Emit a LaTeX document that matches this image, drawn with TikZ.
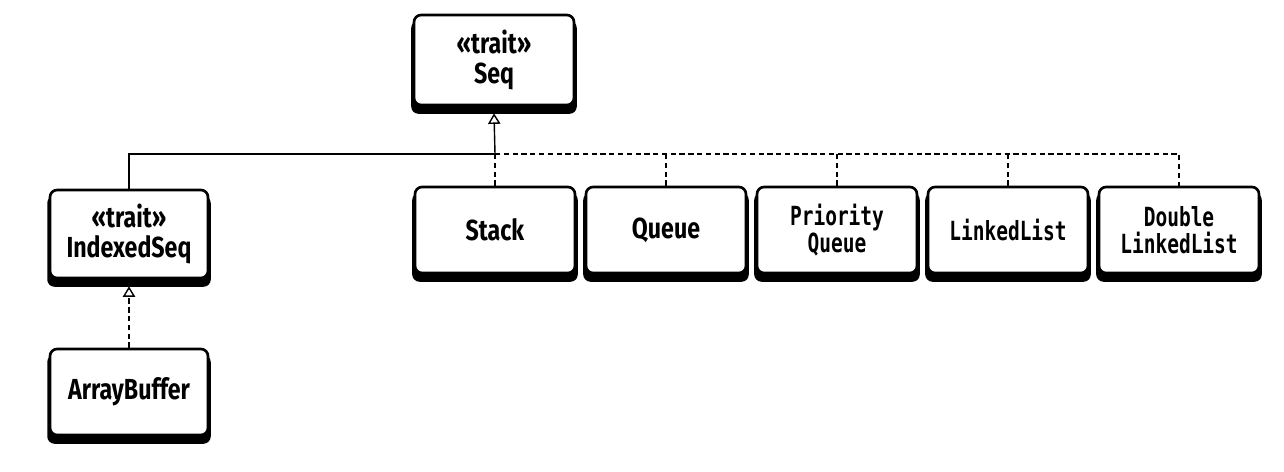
\documentclass[tikz,border=0pt]{standalone}
\usepackage{fontspec}
\usepackage{tikz}
\usetikzlibrary{arrows.meta,shadows}
\newfontfamily\clssans[FakeStretch=0.8]{Fira Sans}
\newfontfamily\clsmono[FakeStretch=0.74,BoldFont={DejaVu Sans Mono Bold}]{DejaVu Sans Mono}

\begin{document}
\begin{tikzpicture}[x=0.02cm,y=-0.02cm,
  classbox/.style={rectangle,draw=black,line width=1.5pt,rounded corners=4pt,fill=white,
    minimum width=3.2cm,minimum height=1.72cm,align=center,inner sep=1pt,
    general shadow={fill=black,shadow yshift=-4pt,shadow scale=1.035}},
  sansbox/.style={classbox,font=\clssans\bfseries\fontsize{16.5}{17}\selectfont},
  monobox/.style={classbox,font=\clsmono\bfseries\fontsize{15}{15.5}\selectfont},
  link/.style={line width=0.8pt},
  realize/.style={link,dash pattern=on 3pt off 2pt},
  inherit/.style={-{Triangle[open,width=7pt,length=6pt]}}]
\useasboundingbox[fill=white] (0,0) rectangle (1284,472);
%Node Coordinates
\node at (494,60) [sansbox,minimum height=1.8cm] (Seq) {«trait»\\Seq};
\node at (129,234) [sansbox,minimum width=3.16cm,minimum height=1.76cm] (IndexedSeq) {«trait»\\IndexedSeq};
\node at (129,392) [sansbox,minimum width=3.16cm] (ArrayBuffer) {ArrayBuffer};
\node at (495,230) [sansbox] (Stack) {Stack};
\node at (666,230) [sansbox] (Queue) {Queue};
\node at (837,230) [monobox] (PriorityQueue) {Priority\\Queue};
\node at (1008,230) [monobox] (LinkedList) {LinkedList};
\node at (1179,230) [monobox] (DoubleLinkedList) {Double\\LinkedList};
\coordinate (hub) at (495,154);
%Connections
\draw [link,inherit] (hub) -- ([yshift=-4pt]Seq.south);
\draw [link] (IndexedSeq.north) |- (hub);
\draw [realize] (Stack.north) -- (hub);
\draw [realize] (hub) -| (DoubleLinkedList.north);
\draw [realize] (Queue.north) -- (Queue.north |- hub);
\draw [realize] (PriorityQueue.north) -- (PriorityQueue.north |- hub);
\draw [realize] (LinkedList.north) -- (LinkedList.north |- hub);
\draw [realize,inherit] (ArrayBuffer.north) -- ([yshift=-4pt]IndexedSeq.south);
\end{tikzpicture}
\end{document}
